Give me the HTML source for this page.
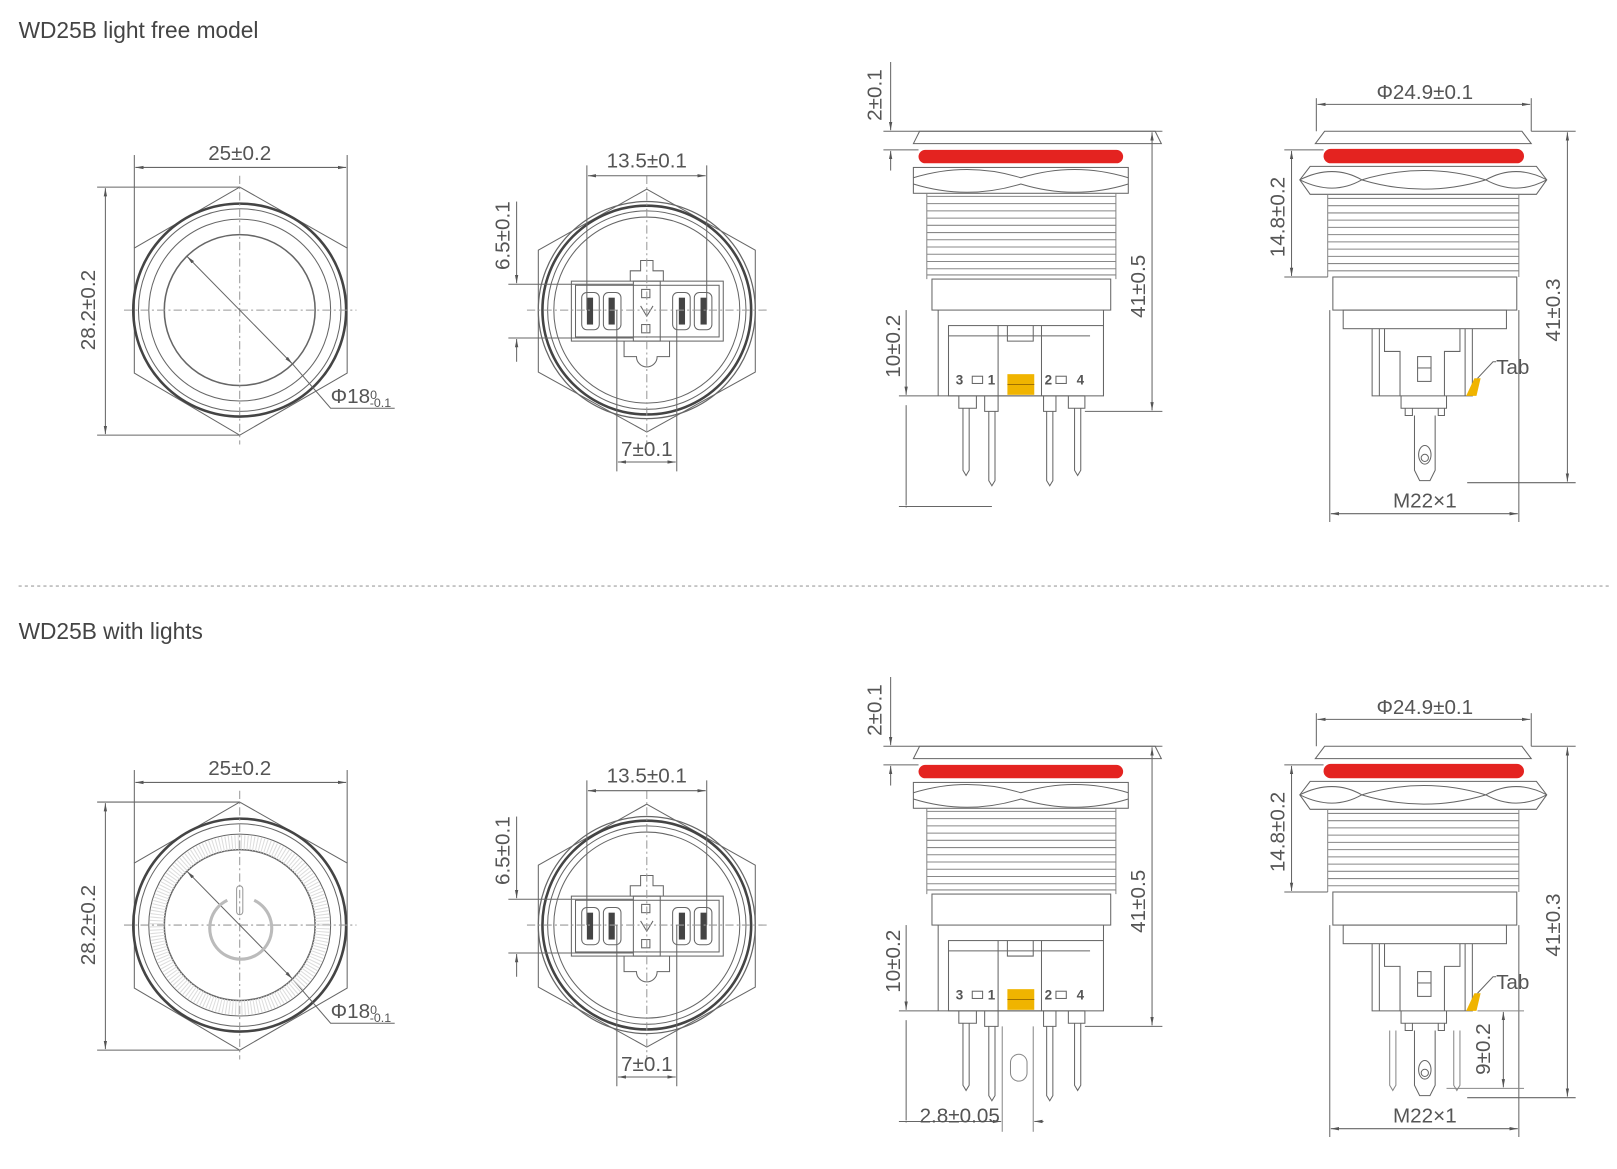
<!DOCTYPE html>
<html><head><meta charset="utf-8"><style>
html,body{margin:0;padding:0;background:#fff}
svg{display:block}
text{font-family:"Liberation Sans",sans-serif;fill:#555}
</style></head><body>
<svg width="1617" height="1169" viewBox="0 0 1565 1131" preserveAspectRatio="none" xmlns="http://www.w3.org/2000/svg">
<defs>
<marker id="a" viewBox="0 0 10 10" refX="10" refY="5" markerWidth="8" markerHeight="8" orient="auto-start-reverse"><path d="M0,3 L10,5 L0,7z" fill="#555"/></marker>
<g id="fv1" fill="none" stroke="#666" stroke-width="1">
 <polygon points="232,181 336,240 336,361 232,421 130,361 130,240"/>
 <circle cx="232" cy="300" r="103" stroke-width="2.5" stroke="#444"/>
 <circle cx="232" cy="300" r="98"/>
 <circle cx="232" cy="300" r="88"/>
 <circle cx="232" cy="300" r="73" stroke-width="1.5"/>
 <line x1="120" y1="300" x2="345" y2="300" stroke-dasharray="8,3,2,3" stroke="#999"/>
 <line x1="232" y1="170" x2="232" y2="430" stroke-dasharray="8,3,2,3" stroke="#999"/>
 <line x1="130" y1="150" x2="130" y2="240"/><line x1="336" y1="150" x2="336" y2="240"/>
 <line x1="131" y1="162" x2="335" y2="162" marker-start="url(#a)" marker-end="url(#a)"/>
 <line x1="94" y1="181" x2="232" y2="181"/><line x1="94" y1="421" x2="232" y2="421"/>
 <line x1="102" y1="182" x2="102" y2="420" marker-start="url(#a)" marker-end="url(#a)"/>
 <line x1="181" y1="248" x2="283" y2="352" marker-start="url(#a)" marker-end="url(#a)"/>
 <polyline points="283,352 320,395 382,395"/>
</g>
<g id="fv2" fill="none" stroke="#666" stroke-width="1">
 <polygon points="626,183 731,242 731,360 626,418 521,360 521,242"/>
 <circle cx="626" cy="300" r="105" stroke-width="1.2"/>
 <circle cx="626" cy="300" r="101" stroke-width="2.5" stroke="#444"/>
 <circle cx="626" cy="300" r="96"/>
 <circle cx="626" cy="300" r="90"/>
 <rect x="553" y="272" width="147" height="58"/>
 <rect x="557" y="276" width="139" height="50"/>
 <path d="M610,272 V262 H620 V252 H632 V262 H642 V272"/>
 <path d="M604,330 V345 H616 A10,10 0 0 0 636,345 H648 V330"/>
 <rect x="613" y="272" width="26" height="58"/>
 <rect x="563" y="283" width="17" height="36" rx="5"/><rect x="584" y="283" width="17" height="36" rx="5"/>
 <rect x="651" y="283" width="17" height="36" rx="5"/><rect x="672" y="283" width="17" height="36" rx="5"/>
 <g fill="#444" stroke="none"><rect x="568" y="288" width="6" height="26"/><rect x="589" y="288" width="6" height="26"/><rect x="657" y="288" width="6" height="26"/><rect x="678" y="288" width="6" height="26"/></g>
 <rect x="621" y="280" width="8" height="8"/><rect x="621" y="314" width="8" height="8"/>
 <path d="M620,296 L626,306 L632,296"/>
 <line x1="510" y1="300" x2="745" y2="300" stroke-dasharray="8,3,2,3" stroke="#999"/>
 <line x1="626" y1="170" x2="626" y2="430" stroke-dasharray="8,3,2,3" stroke="#999"/>
 <line x1="568" y1="160" x2="568" y2="300"/><line x1="684" y1="160" x2="684" y2="300"/>
 <line x1="569" y1="170" x2="683" y2="170" marker-start="url(#a)" marker-end="url(#a)"/>
 <line x1="492" y1="275" x2="613" y2="275"/><line x1="492" y1="327" x2="613" y2="327"/>
 <line x1="500" y1="195" x2="500" y2="274" marker-end="url(#a)"/><line x1="500" y1="350" x2="500" y2="328" marker-end="url(#a)"/>
 <line x1="597" y1="300" x2="597" y2="456"/><line x1="655" y1="300" x2="655" y2="456"/>
 <line x1="598" y1="447" x2="654" y2="447" marker-start="url(#a)" marker-end="url(#a)"/>
</g>
<g id="sv1" fill="none" stroke="#666" stroke-width="1">
 <path d="M884,139 L890,127 H1118 L1124,139 Z"/>
 <rect x="889" y="145" width="198" height="13" rx="6.5" fill="#e42320" stroke="none"/>
 <rect x="884" y="162" width="208" height="25"/>
 <path d="M884,172 Q936,156 988,172 Q1040,156 1092,172 M884,178 Q936,194 988,178 Q1040,194 1092,178"/>
 <g stroke="#888">
  <path d="M897,190 H1080 M897,197 H1080 M897,204 H1080 M897,211 H1080 M897,218 H1080 M897,225 H1080 M897,232 H1080 M897,239 H1080 M897,246 H1080 M897,253 H1080 M897,260 H1080 M897,266 H1080"/>
  <path d="M897,187 V270 M1080,187 V270"/>
 </g>
 <rect x="902" y="270" width="173" height="30"/>
 <path d="M908,300 V383 M1068,300 V383"/>
 <rect x="918" y="315" width="150" height="68"/>
 <path d="M918,325 H1055 M966,315 V383 M1008,315 V383 M975,315 V330 H1000 V315"/>
 <rect x="975" y="362" width="26" height="20" fill="#f0b400" stroke="none"/>
 <line x1="975" y1="372" x2="1001" y2="372" stroke="#a07000"/>
 <rect x="941" y="364" width="10" height="7"/><rect x="1022" y="364" width="10" height="7"/>
 <path d="M928,383 H1050 M928,383 V395 H945 V383 M953,383 V398 H966 V383 M1010,383 V398 H1022 V383 M1034,383 V395 H1050 V383"/>
 <path d="M932,395 V455 L935,460 L938,455 V395 M957,398 V465 L960,470 L963,465 V398 M1013,398 V465 L1016,470 L1019,465 V398 M1040,395 V455 L1043,460 L1046,455 V395"/>
 <line x1="855" y1="127" x2="1124" y2="127"/><line x1="855" y1="145" x2="889" y2="145"/>
 <line x1="862" y1="60" x2="862" y2="126" marker-end="url(#a)"/><line x1="862" y1="165" x2="862" y2="146" marker-end="url(#a)"/>
 <line x1="1124" y1="127" x2="1125" y2="127"/>
 <line x1="1050" y1="398" x2="1125" y2="398"/>
 <line x1="1115" y1="128" x2="1115" y2="397" marker-start="url(#a)" marker-end="url(#a)"/>
 <line x1="870" y1="383" x2="928" y2="383"/><line x1="870" y1="490" x2="960" y2="490"/>
 <line x1="877" y1="300" x2="877" y2="382" marker-end="url(#a)"/><line x1="877" y1="490" x2="877" y2="491"/>
 <line x1="877" y1="392" x2="877" y2="489"/>
</g>
<g id="sv2" fill="none" stroke="#666" stroke-width="1">
 <path d="M1273,139 L1282,127 H1473 L1482,139 Z"/>
 <rect x="1281" y="144" width="194" height="14" rx="7" fill="#e42320" stroke="none"/>
 <path d="M1268,161 H1487 L1497,174 L1487,188 H1268 L1258,174 Z"/>
 <path d="M1258,174 Q1290,158 1318,174 Q1378,156 1438,174 Q1467,158 1497,174 M1258,174 Q1290,190 1318,174 Q1378,192 1438,174 Q1467,190 1497,174"/>
 <g stroke="#888">
  <path d="M1285,192 H1470 M1285,199 H1470 M1285,206 H1470 M1285,213 H1470 M1285,220 H1470 M1285,227 H1470 M1285,234 H1470 M1285,241 H1470 M1285,248 H1470 M1285,255 H1470 M1285,262 H1470"/>
  <path d="M1285,188 V268 M1470,188 V268"/>
 </g>
 <rect x="1290" y="268" width="178" height="32"/>
 <rect x="1300" y="300" width="158" height="18"/>
 <path d="M1328,318 V383 H1425 V318 M1335,318 V383 M1418,318 V383 M1340,318 V340 H1355 V383 M1413,318 V340 H1398 V383"/>
 <rect x="1372" y="345" width="13" height="24"/><line x1="1372" y1="356" x2="1385" y2="356"/>
 <path d="M1419,383 L1427,366 H1433 L1429,383 Z" fill="#f0b400" stroke="none"/>
 <path d="M1430,366 L1445,350 H1448"/>
 <path d="M1356,383 V395 H1400 V383 M1360,395 V402 H1367 V395 M1392,395 V402 H1398 V395"/>
 <path d="M1369,402 V455 L1374,465 H1384 L1389,455 V402"/>
 <ellipse cx="1379" cy="440" rx="6" ry="9"/><circle cx="1379" cy="443" r="3.5"/>
 <path d="M1482,127 H1525 M1420,467 H1525"/>
 <line x1="1517" y1="128" x2="1517" y2="466" marker-start="url(#a)" marker-end="url(#a)"/>
 <line x1="1274" y1="95" x2="1274" y2="127"/><line x1="1482" y1="95" x2="1482" y2="127"/>
 <line x1="1275" y1="101" x2="1481" y2="101" marker-start="url(#a)" marker-end="url(#a)"/>
 <line x1="1243" y1="145" x2="1281" y2="145"/><line x1="1243" y1="268" x2="1285" y2="268"/>
 <line x1="1250" y1="146" x2="1250" y2="267" marker-start="url(#a)" marker-end="url(#a)"/>
 <line x1="1287" y1="300" x2="1287" y2="505"/><line x1="1470" y1="300" x2="1470" y2="505"/>
 <line x1="1288" y1="497" x2="1469" y2="497" marker-start="url(#a)" marker-end="url(#a)"/>
</g>
</defs>

<text x="18" y="37" font-size="22" style="fill:#444">WD25B light free model</text>
<line x1="18" y1="567" x2="1560" y2="567" stroke="#bbb" stroke-width="1.5" stroke-dasharray="3,3"/>
<text x="18" y="618" font-size="22" style="fill:#444">WD25B with lights</text>

<use href="#fv1"/><use href="#fv2"/><use href="#sv1"/><use href="#sv2"/>
<g transform="translate(0,595)"><use href="#fv1"/><use href="#fv2"/><use href="#sv1"/><use href="#sv2"/>
 <g fill="none" stroke="#888">
  <circle cx="232" cy="300" r="80" stroke-width="14" stroke="#ddd" stroke-dasharray="1,2"/>
  <path d="M220,276 A30,30 0 1 0 246,276" stroke-width="3" stroke="#bbb"/>
  <rect x="229" y="262" width="6" height="28" rx="3" stroke="#999"/>
  <line x1="970" y1="398" x2="970" y2="500"/><line x1="1000" y1="398" x2="1000" y2="500"/>
  <rect x="978" y="425" width="16" height="26" rx="8"/>
  <line x1="880" y1="490" x2="969" y2="490" marker-end="url(#a)" stroke="#666"/>
  <line x1="1010" y1="490" x2="1001" y2="490" marker-end="url(#a)" stroke="#666"/>
  <line x1="1430" y1="383" x2="1475" y2="383"/><line x1="1400" y1="458" x2="1475" y2="458"/>
  <line x1="1455" y1="384" x2="1455" y2="457" marker-start="url(#a)" marker-end="url(#a)" stroke="#666"/>
  <path d="M1345,402 V455 L1348,460 L1351,455 V402 M1407,402 V455 L1410,460 L1413,455 V402"/>
 </g>
</g>

<g font-size="20">
<text x="232" y="155" text-anchor="middle">25±0.2</text>
<text transform="translate(92,300) rotate(-90)" text-anchor="middle">28.2±0.2</text>
<text x="320" y="390">Φ18<tspan font-size="12" dy="-4">0</tspan><tspan font-size="12" dx="-7" dy="8">-0.1</tspan></text>
<text x="626" y="162" text-anchor="middle">13.5±0.1</text>
<text transform="translate(493,228) rotate(-90)" text-anchor="middle">6.5±0.1</text>
<text x="626" y="441" text-anchor="middle">7±0.1</text>
<text transform="translate(853,92) rotate(-90)" text-anchor="middle">2±0.1</text>
<text transform="translate(1108,277) rotate(-90)" text-anchor="middle">41±0.5</text>
<text transform="translate(871,335) rotate(-90)" text-anchor="middle">10±0.2</text>
<text x="1379" y="96" text-anchor="middle">Φ24.9±0.1</text>
<text transform="translate(1243,210) rotate(-90)" text-anchor="middle">14.8±0.2</text>
<text transform="translate(1510,300) rotate(-90)" text-anchor="middle">41±0.3</text>
<text x="1379" y="491" text-anchor="middle">M22×1</text>
<text x="1448" y="362">Tab</text>
<text x="925" y="372" font-size="13" font-weight="bold">3</text><text x="956" y="372" font-size="13" font-weight="bold">1</text>
<text x="1011" y="372" font-size="13" font-weight="bold">2</text><text x="1042" y="372" font-size="13" font-weight="bold">4</text>
</g>
<g font-size="20" transform="translate(0,595)">
<text x="232" y="155" text-anchor="middle">25±0.2</text>
<text transform="translate(92,300) rotate(-90)" text-anchor="middle">28.2±0.2</text>
<text x="320" y="390">Φ18<tspan font-size="12" dy="-4">0</tspan><tspan font-size="12" dx="-7" dy="8">-0.1</tspan></text>
<text x="626" y="162" text-anchor="middle">13.5±0.1</text>
<text transform="translate(493,228) rotate(-90)" text-anchor="middle">6.5±0.1</text>
<text x="626" y="441" text-anchor="middle">7±0.1</text>
<text transform="translate(853,92) rotate(-90)" text-anchor="middle">2±0.1</text>
<text transform="translate(1108,277) rotate(-90)" text-anchor="middle">41±0.5</text>
<text transform="translate(871,335) rotate(-90)" text-anchor="middle">10±0.2</text>
<text x="1379" y="96" text-anchor="middle">Φ24.9±0.1</text>
<text transform="translate(1243,210) rotate(-90)" text-anchor="middle">14.8±0.2</text>
<text transform="translate(1510,300) rotate(-90)" text-anchor="middle">41±0.3</text>
<text x="1379" y="491" text-anchor="middle">M22×1</text>
<text x="1448" y="362">Tab</text>
<text x="890" y="491">2.8±0.05</text>
<text transform="translate(1442,420) rotate(-90)" text-anchor="middle">9±0.2</text>
<text x="925" y="372" font-size="13" font-weight="bold">3</text><text x="956" y="372" font-size="13" font-weight="bold">1</text>
<text x="1011" y="372" font-size="13" font-weight="bold">2</text><text x="1042" y="372" font-size="13" font-weight="bold">4</text>
</g>
</svg>
</body></html>
